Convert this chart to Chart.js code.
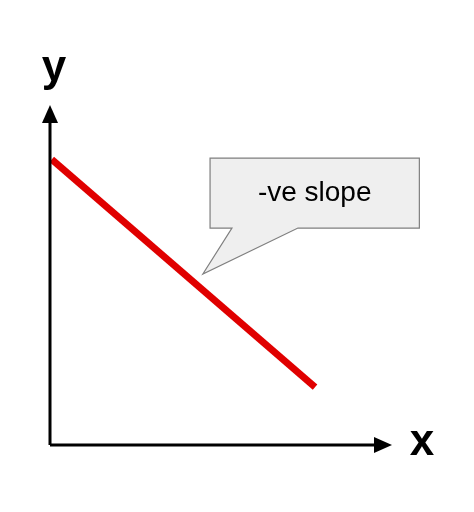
<!DOCTYPE html>
<html><head><meta charset="utf-8">
<script src="https://cdn.jsdelivr.net/npm/chart.js@4/dist/chart.umd.min.js"></script>
<style>html,body{margin:0;background:#fff}</style></head>
<body><canvas id="c" width="474" height="512" style="width:474px;height:512px"></canvas>
<script>
const lineX=[0.05,7.75];
const lineY=[8.4,1.7];
const calloutText="-ve slope";
const calloutBox=[4.68,10.8,8.44,6.38]; // x1,x2,yTop,yBottom
const calloutTail=[5.32,7.25,4.47,5.03]; // base x1,x2, tip x,y
const axisLabels=["x","y"];
const deco={id:'deco',afterDraw(ch){
 const c=ch.ctx,xs=ch.scales.x,ys=ch.scales.y;
 const X=v=>xs.getPixelForValue(v),Y=v=>ys.getPixelForValue(v);
 c.save();
 c.strokeStyle='#000';c.fillStyle='#000';c.lineWidth=3;
 const ox=X(0),oy=Y(0),tx=X(10),ty=Y(10);
 c.beginPath();c.moveTo(ox,oy);c.lineTo(tx-8,oy);c.moveTo(ox,oy);c.lineTo(ox,ty+8);c.stroke();
 c.beginPath();c.moveTo(tx,oy);c.lineTo(tx-18,oy-8);c.lineTo(tx-18,oy+8);c.fill();
 c.beginPath();c.moveTo(ox,ty);c.lineTo(ox-8,ty+18);c.lineTo(ox+8,ty+18);c.fill();
 c.font='bold 44px "Liberation Sans"';c.textBaseline='middle';c.textAlign='center';
 c.fillText(axisLabels[0],tx+30,oy-2);c.fillText(axisLabels[1],ox+4,ty-36);
 const [bx1,bx2,byt,byb]=calloutBox,[t1,t2,tpx,tpy]=calloutTail;
 c.beginPath();
 c.moveTo(X(bx1),Y(byt));c.lineTo(X(bx2),Y(byt));c.lineTo(X(bx2),Y(byb));
 c.lineTo(X(t2),Y(byb));c.lineTo(X(tpx),Y(tpy));c.lineTo(X(t1),Y(byb));
 c.lineTo(X(bx1),Y(byb));c.closePath();
 c.fillStyle='#efefef';c.fill();c.strokeStyle='#7f7f7f';c.lineWidth=1.2;c.stroke();
 c.fillStyle='#000';c.font='28px "Liberation Sans"';
 c.fillText(calloutText,(X(bx1)+X(bx2))/2,(Y(byt)+Y(byb))/2);
 c.restore();}};
new Chart(document.getElementById('c'),{type:'scatter',
 data:{datasets:[{data:lineX.map((x,i)=>({x,y:lineY[i]})),showLine:true,borderColor:'#e00000',borderWidth:7,pointRadius:0,borderCapStyle:'butt'}]},
 options:{responsive:false,animation:false,events:[],layout:{padding:{left:50,right:82,top:105,bottom:67}},
  plugins:{legend:{display:false},tooltip:{enabled:false}},
  scales:{x:{type:'linear',min:0,max:10,display:false},y:{type:'linear',min:0,max:10,display:false}}},
 plugins:[deco]});
</script></body></html>
